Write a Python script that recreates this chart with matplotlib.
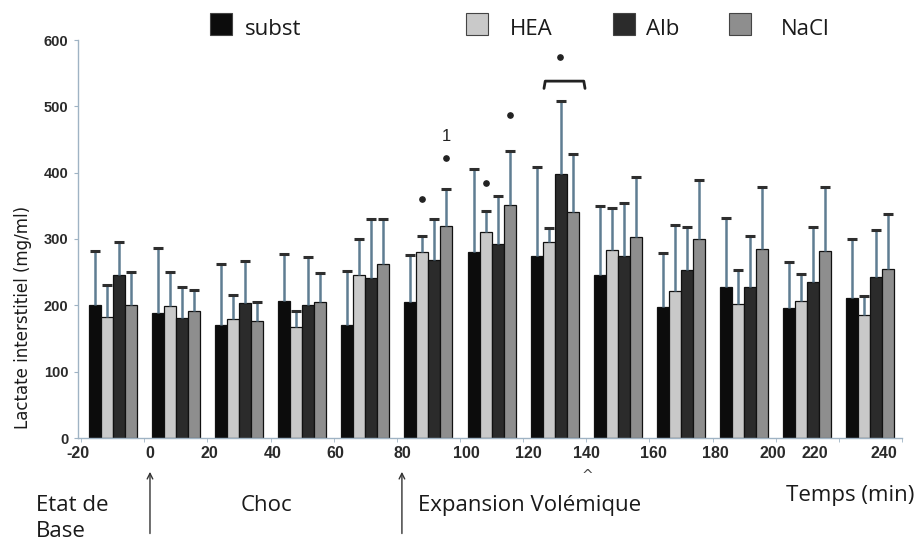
import matplotlib
matplotlib.use("Agg")
import matplotlib.pyplot as plt
from matplotlib.patches import Rectangle
import numpy as np

# ---------------- data ----------------
series_names = ["subst", "HEA", "Alb", "NaCl"]
subst      = [200, 188, 171, 206, 171, 205, 280, 274, 245, 198, 228, 196, 211]
subst_err  = [82, 99, 91, 72, 81, 71, 126, 134, 105, 81, 103, 70, 89]
hea        = [183, 199, 180, 168, 246, 280, 310, 295, 283, 222, 202, 207, 185]
hea_err    = [47, 51, 35, 24, 54, 24, 32, 22, 63, 99, 51, 40, 29]
alb        = [246, 181, 204, 200, 241, 268, 293, 398, 274, 253, 228, 235, 243]
alb_err    = [50, 46, 63, 73, 89, 62, 72, 110, 81, 65, 77, 83, 71]
nacl       = [200, 191, 177, 205, 262, 319, 352, 341, 303, 300, 285, 282, 255]
nacl_err   = [50, 32, 28, 44, 68, 56, 81, 87, 90, 89, 93, 96, 83]
time_labels = ["-20", "0", "20", "40", "60", "80", "100", "120", "140",
               "160", "180", "200", "220", "240"]
y_ticks = [0, 100, 200, 300, 400, 500, 600]

# ---------------- layout ----------------
W, H = 922, 543
label_pos = [-0.55, 0.59, 1.53, 2.53, 3.52, 4.58, 5.60, 6.58, 7.51,
             8.57, 9.55, 10.45, 11.12, 12.21]
colors = ["#0c0c0c", "#c9c9c9", "#2b2b2b", "#8e8e8e"]
spine_col = "#9fb3c4"
err_col = "#5f7d92"
txt_col = "#1a1a1a"
bw = 0.19
cap_hw = 0.08

fig = plt.figure(figsize=(W / 100, H / 100), dpi=100)
ax = fig.add_axes([78 / W, 1 - 438 / H, (902 - 78) / W, (438 - 40) / H])

def fx(x): return x / W
def fy(y): return 1 - y / H

n = len(subst)
x = np.arange(n)
data = [(subst, subst_err), (hea, hea_err), (alb, alb_err), (nacl, nacl_err)]
for k, ((vals, errs), c) in enumerate(zip(data, colors)):
    xs = x + (k - 1.5) * bw
    v = np.array(vals, dtype=float)
    e = np.array(errs, dtype=float)
    ax.bar(xs, v, width=bw, color=c, edgecolor="#111111", linewidth=0.9, zorder=2)
    ax.vlines(xs, v, v + e, color=err_col, lw=1.8, zorder=3)
    ax.hlines(v + e, xs - cap_hw, xs + cap_hw, color="#2e2e2e", lw=2.2, zorder=4)

ax.set_xlim(-0.5, n - 0.5)
ax.set_ylim(0, 600)
for s in ["top", "right"]:
    ax.spines[s].set_visible(False)
for s in ["left", "bottom"]:
    ax.spines[s].set_color(spine_col)
    ax.spines[s].set_linewidth(1.0)

ax.set_yticks(y_ticks)
ax.set_yticklabels([str(v) for v in y_ticks], fontsize=10.5, fontweight="bold",
                   family="Liberation Sans", color="#2a2a2a")
ax.tick_params(axis="y", length=3, color=spine_col, pad=4)

ax.set_xticks(label_pos)
ax.set_xticklabels(time_labels, fontsize=11.5, fontweight="bold",
                   family="Liberation Sans", color="#2a2a2a")
ax.tick_params(axis="x", which="major", length=0, pad=6)
ax.set_xticks(np.arange(-0.5, n, 1.0), minor=True)
ax.tick_params(axis="x", which="minor", length=3, color=spine_col)

fig.text(fx(23), fy(317), "Lactate interstitiel (mg/ml)", rotation=90, fontsize=12,
         family="DejaVu Sans", color=txt_col, ha="center", va="center")

# significance marks
def dot(gi, k, yv):
    ax.plot([gi + (k - 1.5) * bw], [yv], "o", ms=3.8, color="#222222", zorder=5,
            clip_on=False)

dot(5, 1, 360)
dot(5, 3, 422)
ax.text(5 + 1.5 * bw, 455, "1", ha="center", va="center", fontsize=12,
        color="#222222", family="Liberation Sans")
dot(6, 1, 385)
dot(6, 3, 487)
dot(7, 1.9, 575)
bx0, bx1 = 7 - 0.17, 7 + 0.48
ax.plot([bx0, bx0 + 0.02, bx1 - 0.02, bx1], [527, 538, 538, 527], color="#222222", lw=2,
        clip_on=False, solid_joinstyle="round", solid_capstyle="round")

# legend
leg = [(210, 245), (466, 510), (613, 646), (729, 781)]
for (sx, tx), name, c in zip(leg, series_names, colors):
    fig.patches.append(Rectangle((fx(sx), fy(35)), 22 / W, 22 / H, transform=fig.transFigure,
                                 facecolor=c, edgecolor="#444444", lw=0.8))
    fig.text(fx(tx), fy(35), name, fontsize=16, family="Open Sans", va="baseline",
             ha="left", color=txt_col)

# bottom annotations
tf = ax.get_xaxis_transform()
for p in [label_pos[1], label_pos[5]]:
    ax.annotate("", xy=(p, -0.085), xytext=(p, -0.24), xycoords=tf, textcoords=tf,
                arrowprops=dict(arrowstyle="->", color="#333333", lw=1.0,
                                shrinkA=0, shrinkB=0))
ax.text(label_pos[8], -0.095, "^", transform=tf, ha="center", va="center",
        fontsize=10, color="#444444")

bt = dict(fontsize=16, family="Open Sans", va="baseline", ha="left", color=txt_col)
fig.text(fx(36), fy(511), "Etat de", **bt)
fig.text(fx(36), fy(537), "Base", **bt)
fig.text(fx(241), fy(511), "Choc", **bt)
fig.text(fx(418), fy(511), "Expansion Volémique", **bt)
fig.text(fx(786), fy(501), "Temps (min)", **bt)

fig.savefig("out.png", dpi=100)
